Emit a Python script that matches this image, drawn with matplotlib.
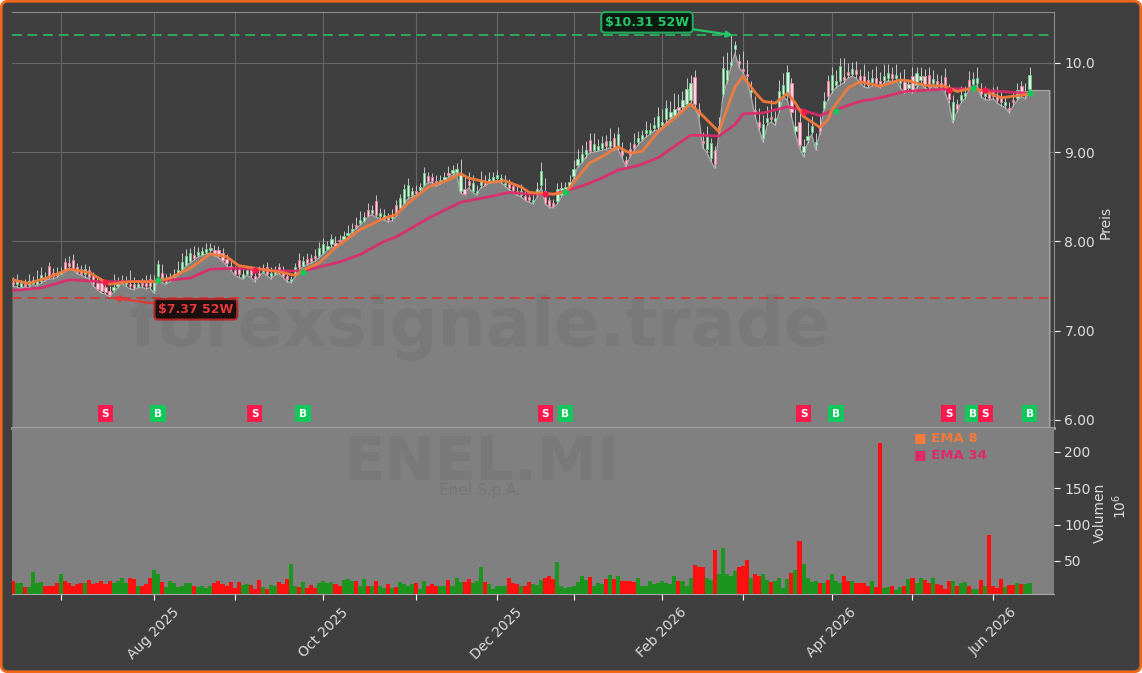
import numpy as np
from matplotlib import pyplot as plt
from matplotlib.patches import FancyBboxPatch
from matplotlib.transforms import IdentityTransform

# area follows the daily lows
lows = [7.50, 7.49, 7.47, 7.49, 7.48, 7.52, 7.50, 7.53, 7.56, 7.58,
        7.58, 7.60, 7.63, 7.66, 7.70, 7.68, 7.64, 7.62, 7.60, 7.58,
        7.50, 7.46, 7.42, 7.41, 7.38, 7.43, 7.48, 7.53, 7.50, 7.47,
        7.46, 7.48, 7.49, 7.47, 7.48, 7.42, 7.59, 7.54, 7.52, 7.55,
        7.58, 7.62, 7.68, 7.72, 7.76, 7.79, 7.83, 7.84, 7.86, 7.87,
        7.84, 7.82, 7.78, 7.73, 7.68, 7.62, 7.60, 7.58, 7.62, 7.60,
        7.55, 7.60, 7.65, 7.62, 7.58, 7.62, 7.64, 7.60, 7.55, 7.54,
        7.60, 7.68, 7.72, 7.74, 7.76, 7.78, 7.82, 7.86, 7.90, 7.94,
        7.93, 7.98, 8.02, 8.04, 8.10, 8.14, 8.18, 8.22, 8.27, 8.30,
        8.27, 8.26, 8.24, 8.22, 8.23, 8.28, 8.35, 8.42, 8.48, 8.50,
        8.52, 8.55, 8.62, 8.66, 8.66, 8.62, 8.64, 8.68, 8.72, 8.74,
        8.76, 8.54, 8.52, 8.60, 8.55, 8.52, 8.60, 8.62, 8.65, 8.66,
        8.68, 8.66, 8.62, 8.58, 8.55, 8.52, 8.50, 8.46, 8.44, 8.42,
        8.50, 8.60, 8.42, 8.38, 8.38, 8.42, 8.50, 8.55, 8.60, 8.70,
        8.83, 8.88, 8.94, 8.99, 9.00, 9.01, 9.02, 9.03, 9.05, 9.03,
        9.03, 8.94, 8.83, 8.95, 9.02, 9.08, 9.13, 9.17, 9.20, 9.24,
        9.25, 9.28, 9.33, 9.37, 9.40, 9.44, 9.47, 9.52, 9.55, 9.50,
        9.40, 9.05, 9.00, 8.90, 8.82, 9.20, 9.62, 9.78, 9.95, 10.11,
        9.95, 9.89, 9.80, 9.62, 9.40, 9.25, 9.11, 9.30, 9.34, 9.30,
        9.45, 9.62, 9.58, 9.40, 9.20, 9.05, 8.95, 9.10, 9.20, 9.03,
        9.20, 9.47, 9.58, 9.66, 9.72, 9.75, 9.78, 9.83, 9.85, 9.83,
        9.78, 9.73, 9.72, 9.74, 9.75, 9.72, 9.78, 9.80, 9.79, 9.80,
        9.72, 9.66, 9.68, 9.66, 9.72, 9.77, 9.72, 9.70, 9.74, 9.72,
        9.70, 9.68, 9.55, 9.33, 9.45, 9.55, 9.60, 9.70, 9.72, 9.75,
        9.62, 9.59, 9.58, 9.60, 9.55, 9.52, 9.50, 9.44, 9.52, 9.58, 9.62, 9.60, 9.69]

# candle parts in cents, stacked on top of the low
lower_wick = [2, 3, 2, 1, 3, 2, 2, 3, 1, 2, 3, 2, 1, 2, 3, 2, 2, 1, 3, 2,
              2, 1, 3, 2, 2, 3, 2, 1, 2, 3, 2, 1, 2, 3, 2, 3, 2, 2, 1, 3,
              2, 3, 1, 2, 2, 3, 2, 1, 2, 3, 2, 2, 1, 3, 2, 2, 3, 1, 2, 2,
              3, 2, 1, 2, 3, 2, 2, 1, 3, 2, 2, 3, 1, 2, 2, 3, 2, 1, 2, 3,
              2, 2, 1, 3, 2, 2, 3, 1, 2, 2, 3, 2, 1, 2, 3, 2, 2, 1, 3, 2,
              2, 3, 1, 2, 2, 3, 2, 1, 2, 3, 2, 2, 1, 3, 2, 2, 3, 1, 2, 2,
              3, 2, 1, 2, 3, 2, 2, 1, 3, 2, 2, 3, 1, 2, 2, 3, 2, 1, 2, 3,
              3, 2, 4, 2, 3, 2, 3, 4, 2, 3, 2, 3, 4, 2, 3, 3, 2, 4, 2, 3,
              3, 2, 4, 3, 2, 3, 4, 2, 3, 4, 3, 5, 4, 3, 5, 4, 3, 3, 3, 5,
              4, 2, 5, 6, 4, 3, 5, 4, 3, 5, 4, 3, 6, 5, 4, 3, 5, 4, 3, 5,
              4, 3, 5, 4, 3, 5, 3, 4, 3, 5, 3, 4, 3, 5, 3, 4, 3, 3, 4, 3,
              5, 3, 4, 3, 3, 4, 3, 3, 4, 3, 3, 4, 5, 3, 3, 4, 3, 3, 4, 3,
              3, 4, 3, 3, 3, 4, 3, 3, 4, 3, 3, 4, 2]
body = [3, 5, 4, 2, 5, 3, 4, 6, 3, 13, 4, 3, 2, 9, 3, 9, 5, 6, 6, 8,
        9, 6, 8, 6, 4, 3, 2, 3, 3, 2, 4, 3, 2, 3, 8, 11, 14, 9, 5, 2,
        3, 3, 8, 10, 9, 3, 3, 4, 3, 3, 4, 6, 8, 4, 3, 4, 6, 5, 4, 6,
        3, 3, 4, 7, 4, 4, 5, 6, 3, 2, 9, 8, 5, 4, 3, 3, 9, 10, 3, 6,
        3, 2, 3, 2, 2, 3, 3, 4, 6, 3, 15, 4, 5, 3, 3, 11, 12, 16, 12, 5,
        3, 3, 14, 5, 4, 3, 3, 3, 3, 3, 3, 18, 6, 5, 8, 3, 6, 3, 3, 4,
        3, 3, 3, 4, 4, 3, 5, 4, 3, 3, 7, 16, 14, 6, 3, 14, 8, 5, 5, 8,
        6, 8, 5, 13, 6, 4, 5, 6, 6, 10, 15, 5, 4, 7, 4, 5, 4, 4, 3, 4,
        13, 4, 12, 5, 6, 4, 8, 17, 19, 30, 4, 3, 13, 17, 16, 5, 29, 11, 3, 4,
        3, 2, 3, 2, 3, 6, 16, 4, 3, 3, 20, 10, 26, 32, 5, 26, 7, 4, 6, 4,
        5, 7, 17, 17, 5, 17, 3, 3, 5, 4, 4, 8, 6, 4, 5, 4, 4, 6, 5, 4,
        5, 10, 4, 16, 14, 4, 10, 14, 4, 5, 5, 12, 10, 20, 6, 5, 3, 8, 6, 5,
        5, 3, 4, 4, 6, 5, 3, 3, 3, 9, 9, 5, 15]
upper_wick = [5, 6, 4, 6, 8, 4, 12, 9, 6, 4, 5, 6, 5, 5, 8, 7, 5, 5, 6, 4,
              5, 6, 6, 5, 6, 14, 8, 5, 6, 16, 8, 5, 6, 9, 5, 6, 4, 10, 5, 5,
              6, 10, 10, 8, 6, 10, 6, 5, 7, 5, 6, 5, 6, 6, 5, 5, 5, 5, 4, 5,
              5, 7, 5, 6, 6, 4, 5, 5, 4, 3, 5, 8, 6, 7, 5, 7, 6, 7, 6, 5,
              8, 5, 6, 10, 7, 8, 10, 6, 8, 6, 7, 6, 6, 5, 7, 5, 4, 5, 8, 4,
              6, 5, 6, 5, 5, 6, 5, 6, 8, 6, 7, 18, 14, 10, 9, 6, 10, 8, 8, 6,
              6, 5, 9, 6, 4, 6, 7, 5, 5, 6, 8, 10, 14, 4, 5, 6, 7, 6, 8, 10,
              12, 10, 10, 7, 12, 8, 8, 6, 14, 6, 8, 10, 5, 8, 12, 8, 6, 10, 8, 8,
              10, 14, 10, 12, 18, 14, 10, 12, 10, 8, 8, 10, 12, 6, 4, 10, 14, 20, 30, 5,
              8, 20, 15, 10, 16, 15, 10, 14, 18, 8, 12, 14, 8, 6, 20, 10, 8, 16, 12, 10,
              14, 10, 6, 8, 12, 8, 22, 10, 8, 10, 8, 14, 10, 10, 14, 10, 14, 10, 8, 12,
              8, 14, 6, 10, 6, 10, 8, 8, 10, 8, 8, 10, 6, 8, 6, 10, 8, 10, 8, 12,
              8, 8, 6, 6, 10, 8, 6, 6, 10, 8, 6, 8, 10]

# volume in millions
volume = [22, 19, 19, 14, 14, 35, 19, 21, 16, 16, 16, 19, 32, 22, 20, 15, 18, 19, 19, 24,
          18, 20, 22, 18, 22, 19, 22, 27, 20, 27, 25, 16, 15, 18, 27, 37, 32, 21, 14, 23,
          20, 14, 15, 19, 19, 15, 14, 16, 13, 15, 19, 23, 18, 16, 21, 13, 21, 17, 18, 17,
          11, 24, 14, 12, 17, 15, 21, 18, 25, 46, 16, 14, 21, 13, 17, 13, 19, 22, 19, 21,
          18, 15, 24,
          25, 23, 23, 15, 25, 15, 16, 22, 16, 13, 18, 13, 14, 21, 18, 16, 18, 19, 11, 22,
          16, 18, 15, 16, 16, 24, 16, 27, 21, 21, 25, 20, 23, 41, 21, 18, 11, 15, 16, 16,
          26, 20, 18, 15, 16, 21, 18, 17, 24, 26, 29, 25, 48, 15, 13, 14, 16, 21, 29, 24,
          28, 16, 20, 18, 25, 30, 25, 29, 23, 23, 23, 21, 26, 15, 15, 22, 18, 20, 22, 19,
          18, 29, 22,
          22, 16, 26, 44, 41, 42, 27, 24, 65, 32, 68, 32, 29, 36, 42, 43, 51, 26, 32, 29,
          32, 24, 21, 22, 27, 13, 25, 33, 38, 77, 46, 26, 21, 22, 19, 20, 24, 32, 22, 20,
          29, 22, 22, 19, 19, 19, 15, 23, 14, 212, 13, 14, 15, 10, 14, 16, 25, 26, 19, 26,
          24, 19, 26, 18, 17, 12, 23, 22, 16, 19, 21, 15, 11, 12, 24, 15, 86, 16, 13, 25,
          14, 17, 17, 19, 18, 18, 20]
# g = up day, r = down day
direction = ("rggrggggrrrrgrrrrrgr" "rrrrrggggr" "rgrrrggrgg" "gggggrgggg"
             "rrrrrrrggr" "rrgrggrrrg" "grgrrrgggg" "rrg"
             "ggrggrgrgg" "rgrggggrgg" "rrrggrgggr" "rgggrggggg"
             "rrrgrrgggr" "rrgggggggg" "rgggrgrgrr" "rrgggggggg" "ggr"
             "gggrrrggrg" "ggggrrrgrr" "ggrggggrgr" "ggggrgrggg"
             "rrgrrrrgrr" "ggrggrgrgg" "rrgrrrrgrg" "grggrgrrrr" "grrgrgg")

ema8_x = [0, 4, 9, 14, 19, 24, 29, 35, 39, 44, 49, 53, 56, 60, 66, 70, 72, 76, 80, 86,
          92, 95, 98, 103, 108, 111, 113, 118, 122, 126, 128, 134, 137, 141, 143, 146,
          150, 153, 156, 160, 164, 168, 171, 175, 179, 181, 184, 186, 189, 192, 194,
          196, 200, 202, 203, 207, 210, 215, 220, 222, 226, 231, 234, 238, 241, 245, 252]
ema8_y = [7.57, 7.53, 7.60, 7.69, 7.65, 7.52, 7.55, 7.55, 7.59, 7.70, 7.86, 7.83, 7.73, 7.70,
          7.66, 7.62, 7.68, 7.76, 7.93, 8.13, 8.26, 8.30, 8.43, 8.61, 8.69, 8.76, 8.71, 8.66,
          8.68, 8.61, 8.55, 8.53, 8.55, 8.77, 8.88, 8.95, 9.06, 8.99, 9.01, 9.23, 9.38, 9.54,
          9.41, 9.23, 9.73, 9.85, 9.67, 9.57, 9.55, 9.66, 9.55, 9.40, 9.28, 9.36, 9.47, 9.72,
          9.79, 9.74, 9.81, 9.80, 9.75, 9.74, 9.68, 9.72, 9.68, 9.61, 9.65]
ema34_x = [0, 7, 14, 22, 35, 44, 49, 56, 66, 72, 81, 86, 92, 95, 103, 111, 118, 123, 128, 134,
           141, 146, 150, 155, 160, 168, 171, 175, 179, 181, 186, 192, 196, 200, 203, 210,
           215, 221, 232, 238, 242, 252]
ema34_y = [7.45, 7.48, 7.57, 7.55, 7.55, 7.59, 7.69, 7.70, 7.67, 7.67, 7.77, 7.85, 8.00, 8.05,
           8.26, 8.44, 8.50, 8.55, 8.53, 8.53, 8.62, 8.71, 8.80, 8.85, 8.94, 9.19, 9.19, 9.18,
           9.31, 9.43, 9.44, 9.51, 9.47, 9.41, 9.46, 9.57, 9.61, 9.68, 9.71, 9.71, 9.69, 9.66]

signal_x = [23, 36, 60, 72, 132, 137, 196, 204, 232, 238, 241, 252]
signal_y = [7.55, 7.57, 7.68, 7.66, 8.53, 8.55, 9.45, 9.46, 9.70, 9.72, 9.70, 9.66]
signal_type = ['S', 'B', 'S', 'B', 'S', 'B', 'S', 'B', 'S', 'B', 'S', 'B']

month_ticks = [12, 35, 55, 77, 100, 120, 139, 161, 181, 203, 223, 243]
month_labels = ['', 'Aug 2025', '', 'Oct 2025', '', 'Dec 2025', '', 'Feb 2026', '', 'Apr 2026', '', 'Jun 2026']
price_ticks = [6, 7, 8, 9, 10]
price_labels = ['6.00', '7.00', '8.00', '9.00', '10.0']
volume_ticks = [50, 100, 150, 200]
high_52w = 10.31
low_52w = 7.37

BG = '#3f3f3f'
AREA = '#808080'
TEXT = '#dddddd'
UP = '#11c85a'
DOWN = '#f81a4c'

W, H = 1142, 673
fig = plt.figure(figsize=(W / 100, H / 100), dpi=100, facecolor='white')
fig.add_artist(FancyBboxPatch((1.2, 1.2), W - 2.4, H - 2.4, boxstyle='round,pad=0,rounding_size=7',
                              fc=BG, ec='#f0661a', lw=2, transform=IdentityTransform(), zorder=-1))

ax = fig.add_axes([12 / W, 1 - 428 / H, 1042 / W, 416 / H], facecolor=BG)
ax_vol = fig.add_axes([12 / W, 1 - 594 / H, 1042 / W, 166 / H], facecolor=AREA, sharex=ax)

x = np.arange(len(lows))
low = np.array(lows)
body_lo = low + np.array(lower_wick) / 100
body_hi = body_lo + np.array(body) / 100
high = body_hi + np.array(upper_wick) / 100
is_up = np.array([c == 'g' for c in direction])

x_min, x_max = -0.17, 258.07
y_min, y_max = 5.91, 10.571

# area runs on a little past the last candle
area_x = np.r_[x_min, x, 257]
area_y = np.r_[low[0], low, low[-1]]
ax.fill_between(area_x, area_y, y_min, color=AREA, lw=0, zorder=2)
ax.plot(np.r_[area_x, area_x[-1]], np.r_[area_y, y_min], color='#a8a8a8', lw=1, zorder=2.1)

ax.vlines(x, low, high, color='#c4c8c6', lw=0.7, zorder=3)
ax.bar(x[is_up], (body_hi - body_lo)[is_up], bottom=body_lo[is_up], width=0.55,
       color='#dcefe0', edgecolor='#6ccf8c', lw=0.6, zorder=3.2)
ax.bar(x[~is_up], (body_hi - body_lo)[~is_up], bottom=body_lo[~is_up], width=0.55,
       color='#f7d8e0', edgecolor='#ee7b9c', lw=0.6, zorder=3.2)

ax.plot(ema34_x, ema34_y, color='#e0296a', lw=2, alpha=0.9, zorder=4, solid_joinstyle='round')
ax.plot(ema8_x, ema8_y, color='#f47a3c', lw=2, alpha=0.95, zorder=4.1, solid_joinstyle='round')

ax.axhline(high_52w, color='#2fa85c', lw=1.4, ls=(0, (5, 3)), zorder=3)
ax.axhline(low_52w, color='#c9413f', lw=1.4, ls=(0, (5, 3)), zorder=3)

for sx, sy, st in zip(signal_x, signal_y, signal_type):
    col = UP if st == 'B' else DOWN
    ax.plot(sx, sy, 'o', color=col, ms=4.5, mew=0, zorder=5)
    ax.text(sx, 6.07, st, color='white', fontsize=7.5, fontweight='bold', ha='center', va='center',
            bbox=dict(boxstyle='square,pad=0.36', fc=col, ec='none'), zorder=6)

ax.annotate(r'\$10.31 52W', xy=(178.5, high_52w), xytext=(157.2, 10.455), color='#25c868', fontsize=9,
            fontweight='bold', ha='center', va='center',
            bbox=dict(boxstyle='round,pad=0.3', fc='#0c1a12', ec='#25a85c', lw=1.5),
            arrowprops=dict(arrowstyle='-|>', color='#25c868', lw=1.6, shrinkA=0, shrinkB=0), zorder=7)
ax.annotate(r'\$7.37 52W', xy=(24.8, low_52w), xytext=(45.4, 7.24), color='#e8393a', fontsize=9,
            fontweight='bold', ha='center', va='center',
            bbox=dict(boxstyle='round,pad=0.3', fc='#1c1010', ec='#b52a2a', lw=1.5),
            arrowprops=dict(arrowstyle='-|>', color='#e8393a', lw=1.6, shrinkA=0, shrinkB=0), zorder=7)

ax.set_xlim(x_min, x_max)
ax.set_ylim(y_min, y_max)
ax.set_xticks(month_ticks)
ax.set_yticks(price_ticks)
ax.set_yticklabels(price_labels)
ax.yaxis.tick_right()
ax.tick_params(axis='y', colors=TEXT, labelsize=10, length=4, color='white')
ax.tick_params(axis='x', length=0, labelbottom=False)
ax.grid(color='#666666', lw=0.8, zorder=1)
ax.set_axisbelow(True)
for name, sp in ax.spines.items():
    sp.set_color('#8c8c8c')
ax.spines['left'].set_visible(False)
ax.spines['bottom'].set_color('#a6a6a6')
ax.spines['bottom'].set_linewidth(2)

vol_colors = ['#1d941d' if u else '#ff0f0f' for u in is_up]
ax_vol.bar(x, volume, width=1.0, color=vol_colors, lw=0)
ax_vol.set_ylim(4.5, 233)
ax_vol.set_yticks(volume_ticks)
ax_vol.yaxis.tick_right()
ax_vol.tick_params(axis='y', colors=TEXT, labelsize=10, length=4, color='white')
ax_vol.set_xticks(month_ticks)
ax_vol.set_xticklabels(month_labels, rotation=45, ha='center', color=TEXT, fontsize=10)
ax_vol.tick_params(axis='x', length=4, color='white', pad=4)
for sp in ax_vol.spines.values():
    sp.set_visible(False)
ax_vol.spines['bottom'].set_visible(True)
ax_vol.spines['bottom'].set_color('#a6a6a6')

fig.text(1106 / W, 1 - 222 / H, 'Preis', color=TEXT, fontsize=10, rotation=90, ha='center', va='center')
fig.text(1100 / W, 1 - 513 / H, 'Volumen', color=TEXT, fontsize=10, rotation=90, ha='center', va='center')
fig.text(1120 / W, 1 - 506 / H, r'$10^6$', color=TEXT, fontsize=10, rotation=90, ha='center', va='center')

# watermarks
fig.text(480 / W, 1 - 327 / H, 'forexsignale.trade', color='black', alpha=0.05, fontsize=48.4,
         fontweight='bold', ha='center', va='center', zorder=10)
fig.text(482 / W, 1 - 463 / H, 'ENEL.MI', color='black', alpha=0.05, fontsize=43.5,
         fontweight='bold', ha='center', va='center', zorder=10)
fig.text(480 / W, 1 - 491 / H, 'Enel S.p.A.', color='black', alpha=0.07, fontsize=11,
         ha='center', va='center', zorder=10)

fig.text(914 / W, 1 - 438 / H, '■ EMA 8', color='#f47a3c', fontsize=9.5, fontweight='bold', va='center', zorder=10)
fig.text(914 / W, 1 - 455 / H, '■ EMA 34', color='#e0296a', fontsize=9.5, fontweight='bold', va='center', zorder=10)

fig.savefig('out.png', dpi=100, facecolor=fig.get_facecolor())
